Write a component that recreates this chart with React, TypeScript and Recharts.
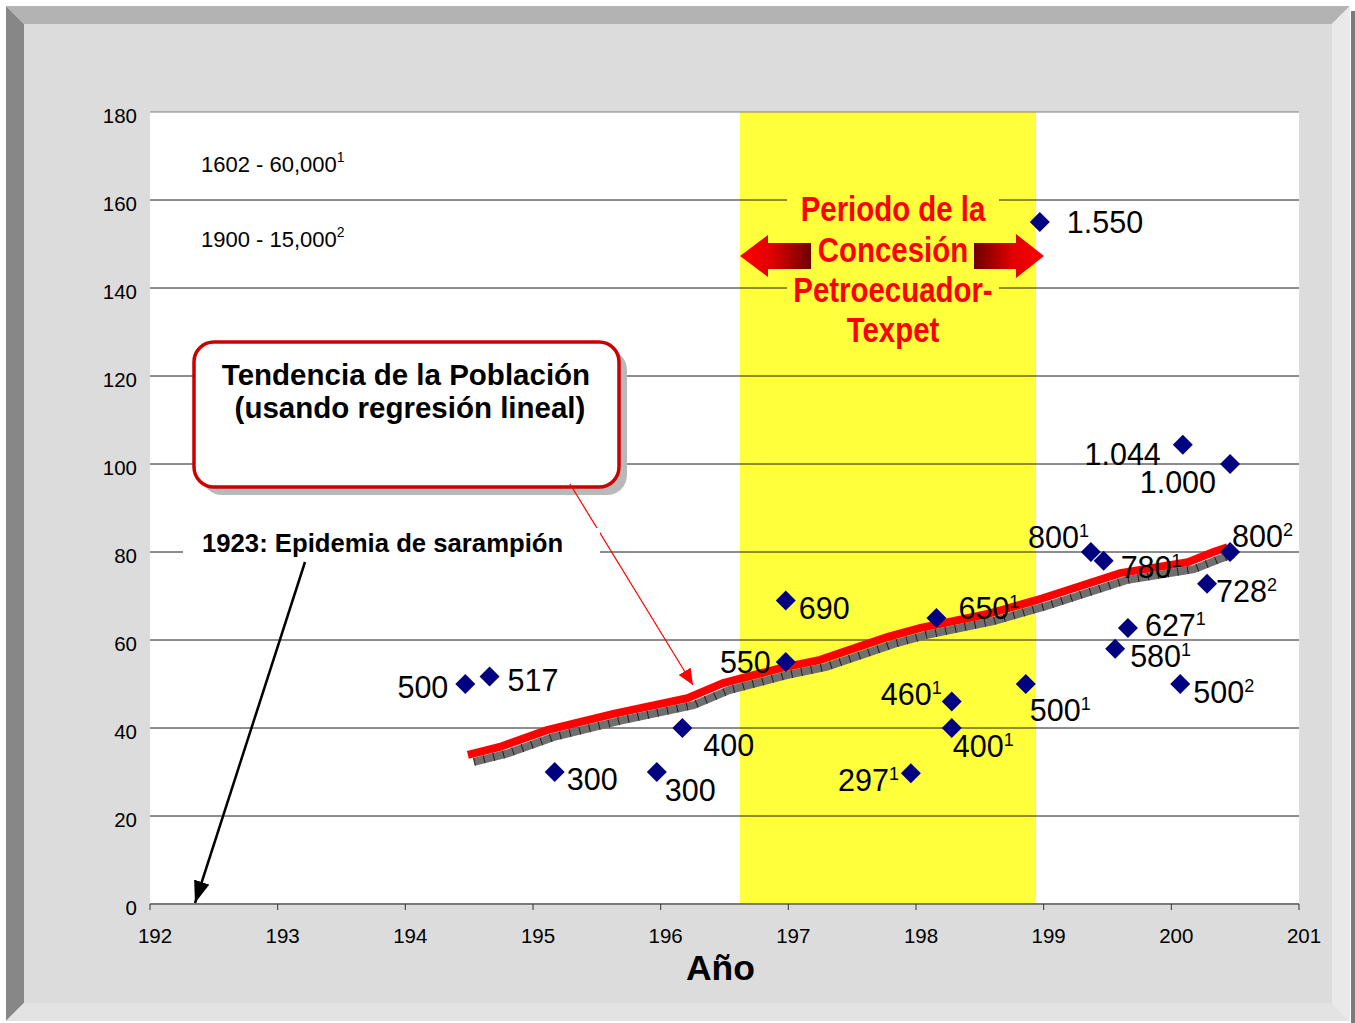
import React from 'react';
import {
  ComposedChart,
  Scatter,
  Line,
  XAxis,
  YAxis,
  CartesianGrid,
  ReferenceArea,
  ReferenceLine,
} from 'recharts';

// ---------- data ----------
const X_TICKS = [192, 193, 194, 195, 196, 197, 198, 199, 200, 201];
const Y_TICKS = [0, 20, 40, 60, 80, 100, 120, 140, 160, 180];

const POINT_YEARS = [
  194.47, 194.66, 195.17, 195.97, 196.17, 196.98, 196.98, 198.16, 198.28, 198.28, 197.96,
  198.86, 198.97, 199.37, 199.47, 199.66, 199.56, 200.09, 200.46, 200.46, 200.28, 200.07,
];
const POINT_VALUES = [
  50, 51.7, 30, 30, 40, 55, 69, 65, 46, 40, 29.7, 50, 155, 80, 78, 62.7, 58, 104.4, 100, 80,
  72.8, 50,
];
const POINT_LABELS = [
  '500', '517', '300', '300', '400', '550', '690', '650', '460', '400', '297', '500', '1.550',
  '800', '780', '627', '580', '1.044', '1.000', '800', '728', '500',
];
const POINT_NOTES = [
  '', '', '', '', '', '', '', '1', '1', '1', '1', '1', '', '1', '1', '1', '1', '', '', '2', '2', '2',
];

const TREND_YEARS = [
  194.49, 194.74, 195.11, 195.63, 196.21, 196.49, 196.94, 197.25, 197.78, 198.03, 198.56,
  198.95, 199.6, 200.13, 200.33, 200.44,
];
const TREND_VALUES = [
  33.9, 35.7, 39.5, 43.2, 46.8, 50.2, 53.6, 55.5, 60.7, 62.7, 65.9, 69.1, 75.2, 77.7, 80, 81.1,
];

const CONCESSION_START = 196.62;
const CONCESSION_END = 198.94;

// ---------- label layout (pixel offsets from each marker) ----------
const LABEL_LAYOUT: { dx: number; dy: number; anchor: 'start' | 'end' }[] = [
  { dx: -17, dy: 14, anchor: 'end' },
  { dx: 18, dy: 14, anchor: 'start' },
  { dx: 12, dy: 18, anchor: 'start' },
  { dx: 8, dy: 29, anchor: 'start' },
  { dx: 21, dy: 28, anchor: 'start' },
  { dx: -15, dy: 11, anchor: 'end' },
  { dx: 13, dy: 19, anchor: 'start' },
  { dx: 22, dy: 1, anchor: 'start' },
  { dx: -10, dy: 3, anchor: 'end' },
  { dx: 1, dy: 29, anchor: 'start' },
  { dx: -12, dy: 18, anchor: 'end' },
  { dx: 4, dy: 37, anchor: 'start' },
  { dx: 27, dy: 11, anchor: 'start' },
  { dx: -2, dy: -4, anchor: 'end' },
  { dx: 17, dy: 17, anchor: 'start' },
  { dx: 17, dy: 8, anchor: 'start' },
  { dx: 15, dy: 18, anchor: 'start' },
  { dx: -22, dy: 20, anchor: 'end' },
  { dx: -14, dy: 29, anchor: 'end' },
  { dx: 2, dy: -5, anchor: 'start' },
  { dx: 9, dy: 18, anchor: 'start' },
  { dx: 13, dy: 19, anchor: 'start' },
];

const pointData = POINT_YEARS.map((x, i) => ({
  id: i,
  x,
  y: POINT_VALUES[i],
  label: POINT_LABELS[i],
  note: POINT_NOTES[i],
}));
const trendData = TREND_YEARS.map((x, i) => ({ x, y: TREND_VALUES[i] }));

const FONT = "'Liberation Sans', Arial, Helvetica, sans-serif";

const W = 1355;
const H = 1023;
const YELLOW = '#ffff3c';

const renderPoint = (props: any) => {
  const { cx, cy, payload } = props;
  if (cx == null || cy == null) return <g />;
  const r = 10;
  const lay = LABEL_LAYOUT[payload.id];
  return (
    <g>
      <polygon
        points={`${cx},${cy - r} ${cx + r},${cy} ${cx},${cy + r} ${cx - r},${cy}`}
        fill="#000080"
      />
      <text
        x={cx + lay.dx}
        y={cy + lay.dy}
        textAnchor={lay.anchor}
        fontFamily={FONT}
        fontSize={30.5}
        fill="#000"
      >
        <tspan>{payload.label}</tspan>
        {payload.note ? (
          <tspan fontSize={18} dy={-11}>
            {payload.note}
          </tspan>
        ) : null}
      </text>
    </g>
  );
};

const XTick = (props: any) => {
  const { x, y, payload } = props;
  return (
    <text x={x + 5} y={y + 33} textAnchor="middle" fontFamily={FONT} fontSize={20.5} fill="#000">
      {payload.value}
    </text>
  );
};

const YTick = (props: any) => {
  const { x, y, payload } = props;
  return (
    <text x={x} y={y + 11} textAnchor="end" fontFamily={FONT} fontSize={20.5} fill="#000">
      {payload.value}
    </text>
  );
};

const Frame = () => (
  <svg width={W} height={H} style={{ position: 'absolute', left: 0, top: 0 }}>
    <rect x={0} y={0} width={W} height={H} fill="#ffffff" />
    <rect x={24} y={24} width={1308} height={979} fill="#dcdcdc" />
    <polygon points="6,6 1350,6 1332,24 24,24" fill="#b3b3b3" />
    <polygon points="6,6 24,24 24,1003 6,1021" fill="#878787" />
    <polygon points="6,1021 24,1003 1332,1003 1350,1021" fill="#e3e3e3" />
    <polygon points="1350,6 1332,24 1332,1003 1350,1021" fill="#e9e9e9" />
    <rect x={1351} y={11} width={4} height={1012} fill="#7a7a7a" />
  </svg>
);

const Overlay = () => (
  <svg
    width={W}
    height={H}
    style={{ position: 'absolute', left: 0, top: 0, pointerEvents: 'none' }}
  >
    <defs>
      <linearGradient id="gradLeft" x1="0" y1="0" x2="1" y2="0">
        <stop offset="0%" stopColor="#ff0000" />
        <stop offset="45%" stopColor="#e00000" />
        <stop offset="100%" stopColor="#6e0000" />
      </linearGradient>
      <linearGradient id="gradRight" x1="0" y1="0" x2="1" y2="0">
        <stop offset="0%" stopColor="#6e0000" />
        <stop offset="55%" stopColor="#e00000" />
        <stop offset="100%" stopColor="#ff0000" />
      </linearGradient>
      <marker
        id="redHead"
        markerUnits="userSpaceOnUse"
        markerWidth={16}
        markerHeight={14}
        refX={16}
        refY={7}
        orient="auto"
      >
        <polygon points="0,0 16,7 0,14" fill="#ff0000" />
      </marker>
      <marker
        id="blackHead"
        markerUnits="userSpaceOnUse"
        markerWidth={22}
        markerHeight={16}
        refX={22}
        refY={8}
        orient="auto"
      >
        <polygon points="0,0 22,8 0,16" fill="#000" />
      </marker>
    </defs>

    {/* period text box */}
    <rect x={787} y={190} width={212} height={166} fill={YELLOW} />
    <g fontFamily={FONT} fontWeight="bold" fontSize={35} fill="#ff0000" textAnchor="middle">
      <text transform="translate(893,221) scale(0.84,1)" x={0} y={0}>Periodo de la</text>
      <text transform="translate(893,262) scale(0.84,1)" x={0} y={0}>Concesión</text>
      <text transform="translate(893,302) scale(0.84,1)" x={0} y={0}>Petroecuador-</text>
      <text transform="translate(893,342) scale(0.84,1)" x={0} y={0}>Texpet</text>
    </g>
    <polygon
      points="740,256 768,235 768,243 811,243 811,269 768,269 768,277"
      fill="url(#gradLeft)"
    />
    <polygon
      points="974,243 1016,243 1016,234 1044,256 1016,278 1016,269 974,269"
      fill="url(#gradRight)"
    />

    {/* population early figures */}
    <g fontFamily={FONT} fontSize={22} fill="#000">
      <text x={201} y={172}>
        1602 - 60,000<tspan fontSize={14} dy={-10}>1</tspan>
      </text>
      <text x={201} y={247}>
        1900 - 15,000<tspan fontSize={14} dy={-10}>2</tspan>
      </text>
    </g>

    {/* trend callout */}
    <rect x={202} y={350} width={425} height={145} rx={20} fill="#b9b9b9" />
    <rect
      x={194}
      y={342}
      width={425}
      height={145}
      rx={20}
      fill="#ffffff"
      stroke="#cc0000"
      strokeWidth={3.5}
    />
    <g fontFamily={FONT} fontWeight="bold" fontSize={29.5} fill="#000" textAnchor="middle">
      <text x={406} y={385}>Tendencia de la Población</text>
      <text x={410} y={418}>(usando regresión lineal)</text>
    </g>
    <line
      x1={570}
      y1={484}
      x2={693}
      y2={685}
      stroke="#ff0000"
      strokeWidth={1.2}
      markerEnd="url(#redHead)"
    />

    {/* epidemic note */}
    <rect x={183} y={528} width={417} height={34} fill="#ffffff" />
    <text x={202} y={552} fontFamily={FONT} fontWeight="bold" fontSize={25.7} fill="#000">
      1923: Epidemia de sarampión
    </text>
    <line
      x1={305}
      y1={562}
      x2={195}
      y2={903}
      stroke="#000"
      strokeWidth={2.5}
      markerEnd="url(#blackHead)"
    />
  </svg>
);

export default function App() {
  return (
    <div style={{ position: 'absolute', left: 0, top: 0, width: W, height: H }}>
      <style>{`.trend-shadow { transform: translate(6px, 7px); }`}</style>
      <Frame />
      <div style={{ position: 'absolute', left: 0, top: 0 }}>
        <ComposedChart
          width={W}
          height={H}
          margin={{ top: 112, right: 56, bottom: 89, left: 90 }}
        >
          <CartesianGrid horizontal={false} vertical={false} fill="#ffffff" fillOpacity={1} />
          <XAxis
            type="number"
            dataKey="x"
            domain={[192, 201]}
            ticks={X_TICKS}
            allowDataOverflow
            height={30}
            tickSize={6}
            tickMargin={0}
            axisLine={{ stroke: '#7a7a7a', strokeWidth: 2 }}
            tickLine={{ stroke: '#333' }}
            tick={<XTick />}
            label={{
              value: 'Año',
              position: 'bottom',
              offset: 21,
              fontSize: 35.5,
              fontWeight: 'bold',
              fill: '#000',
              fontFamily: FONT,
              dx: -4,
            }}
          />
          <YAxis
            type="number"
            domain={[0, 180]}
            ticks={Y_TICKS}
            width={60}
            axisLine={false}
            tickLine={false}
            tickSize={0}
            tickMargin={13}
            tick={<YTick />}
          />
          <ReferenceArea
            x1={CONCESSION_START}
            x2={CONCESSION_END}
            y1={0}
            y2={180}
            fill={YELLOW}
            fillOpacity={1}
            stroke="none"
          />
          {Y_TICKS.filter((t) => t > 0).map((t) => (
            <ReferenceLine
              key={t}
              y={t}
              stroke={t === 180 ? '#808080' : '#1a1a1a'}
              strokeWidth={1}
            />
          ))}
          <Line
            data={trendData}
            dataKey="y"
            type="linear"
            className="trend-shadow"
            stroke="#6f6f6f"
            strokeWidth={8}
            dot={false}
            activeDot={false}
            isAnimationActive={false}
          />
          <Line
            data={trendData}
            dataKey="y"
            type="linear"
            className="trend-shadow"
            stroke="#000"
            strokeOpacity={0.7}
            strokeWidth={8}
            strokeDasharray="1 9"
            dot={false}
            activeDot={false}
            isAnimationActive={false}
          />
          <Line
            data={trendData}
            dataKey="y"
            type="linear"
            stroke="#ff0000"
            strokeWidth={8}
            dot={false}
            activeDot={false}
            isAnimationActive={false}
          />
          <Scatter
            data={pointData}
            dataKey="y"
            shape={renderPoint}
            isAnimationActive={false}
          />
        </ComposedChart>
      </div>
      <Overlay />
    </div>
  );
}
